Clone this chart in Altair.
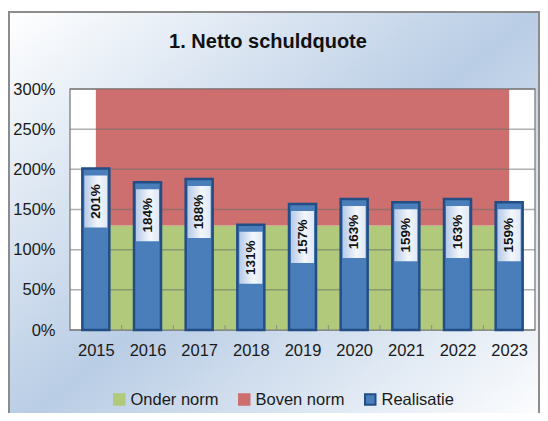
import altair as alt
import pandas as pd

# ---- data ----
years = [2015, 2016, 2017, 2018, 2019, 2020, 2021, 2022, 2023]
realisatie = [201, 184, 188, 131, 157, 163, 159, 163, 159]
onder_norm_top = [130, 130, 130, 130, 130, 130, 130, 130, 130]
boven_norm_top = [300, 300, 300, 300, 300, 300, 300, 300, 300]
y_ticks = [0, 50, 100, 150, 200, 250, 300]
series_names = ["Onder norm", "Boven norm", "Realisatie"]
series_fill = ["#b0c97a", "#cc6f6e", "#4a7ebb"]
series_stroke = ["#b0c97a", "#cc6f6e", "#224e85"]
title_text = "1. Netto schuldquote"

FONT = "Liberation Sans"
W, H = 465, 241
PAD = {"left": 62, "top": 81, "right": 5, "bottom": 83}

area_df = pd.DataFrame({
    "year": years + years,
    "series": ["Onder norm"] * len(years) + ["Boven norm"] * len(years),
    "low": [0] * len(years) + onder_norm_top,
    "high": onder_norm_top + boven_norm_top,
})
bar_df = pd.DataFrame({
    "year": years,
    "value": realisatie,
    "series": ["Realisatie"] * len(years),
    "label": [f"{v}%" for v in realisatie],
})
grid_df = pd.DataFrame({"v": y_ticks})
bound_df = pd.DataFrame({"b": [y + 0.5 for y in years[:-1]]})
one = pd.DataFrame({"k": [0]})

xscale = alt.Scale(domain=[2014.5, 2023.5], nice=False, zero=False, padding=0)
yscale = alt.Scale(domain=[0, 300], nice=False, padding=0)
xaxis = alt.Axis(values=years, format="d", grid=False, ticks=False, domain=False,
                 labelFontSize=16.5, labelFont=FONT, labelColor="#1a1a1a", zindex=2,
                 labelPadding=12, labelOverlap=False, labelFlush=False, title=None)
yaxis = alt.Axis(values=y_ticks, labelExpr="datum.value + '%'", grid=False, zindex=2,
                 ticks=False, tickSize=0, domain=False, labelFontSize=16.5,
                 labelFont=FONT, labelColor="#1a1a1a", labelPadding=15, title=None)


def legend():
    return alt.Legend(title=None, orient="none", legendX=41, legendY=302,
                      direction="horizontal", symbolType="square",
                      symbolSize=110, symbolStrokeWidth=2,
                      labelFontSize=16.5, labelFont=FONT, labelColor="#1a1a1a",
                      labelOffset=3, columnPadding=16, zindex=2)


color = alt.Color("series:N", scale=alt.Scale(domain=series_names, range=series_fill),
                  legend=legend())
stroke = alt.Stroke("series:N", scale=alt.Scale(domain=series_names, range=series_stroke),
                    legend=legend())

bg_grad = alt.Gradient(
    gradient="linear", x1=0, y1=0, x2=1, y2=1,
    stops=[alt.GradientStop(color="#ffffff", offset=0),
           alt.GradientStop(color="#b9cde5", offset=0.5),
           alt.GradientStop(color="#ffffff", offset=1)],
)
background = alt.Chart(one).mark_rect(fill=bg_grad, stroke="#8c8c8c", strokeWidth=2).encode(
    x=alt.value(-PAD["left"] + 1), x2=alt.value(W + PAD["right"] - 1),
    y=alt.value(-PAD["top"] + 4), y2=alt.value(H + PAD["bottom"] + 20),
)
plot_bg = alt.Chart(one).mark_rect(fill="#ffffff", stroke="#8c8c8c", strokeWidth=1.5).encode(
    x=alt.value(0), x2=alt.value(W), y=alt.value(0), y2=alt.value(H),
)
title = alt.Chart(one).mark_text(fontSize=20, fontWeight="bold", font=FONT, color="#111111",
                                 align="center", baseline="alphabetic").encode(
    x=alt.value(198), y=alt.value(-41), text=alt.value(title_text),
)

areas = alt.Chart(area_df).mark_area(strokeWidth=0).encode(
    x=alt.X("year:Q", scale=xscale, axis=xaxis),
    y=alt.Y("low:Q", scale=yscale, axis=yaxis),
    y2="high:Q",
    color=color,
    stroke=stroke,
)

grid = alt.Chart(grid_df).mark_rule(color="#6e6e6e", opacity=0.55, strokeWidth=1.5).encode(
    y=alt.Y("v:Q", scale=yscale, axis=yaxis),
    x=alt.value(0), x2=alt.value(W),
)

bticks = alt.Chart(bound_df).mark_rule(color="#8c8c8c", strokeWidth=1).encode(
    x=alt.X("b:Q", scale=xscale, axis=xaxis),
    y=alt.value(H), y2=alt.value(H - 5),
)

bars = alt.Chart(bar_df).mark_bar(width=27, strokeWidth=2.5).encode(
    x=alt.X("year:Q", scale=xscale, axis=xaxis),
    y=alt.Y("value:Q", scale=yscale, axis=yaxis),
    color=color,
    stroke=stroke,
)

box_grad = alt.Gradient(
    gradient="linear", x1=0, y1=0, x2=1, y2=0,
    stops=[alt.GradientStop(color="#b6cae8", offset=0),
           alt.GradientStop(color="#f3f7fc", offset=0.6),
           alt.GradientStop(color="#dfe8f5", offset=1)],
)
boxes = alt.Chart(bar_df).mark_bar(width=23, fill=box_grad, yOffset=7, y2Offset=59).encode(
    x=alt.X("year:Q", scale=xscale, axis=xaxis),
    y=alt.Y("value:Q", scale=yscale, axis=yaxis),
    y2="value:Q",
)

labels = alt.Chart(bar_df).mark_text(angle=270, yOffset=33, align="center", baseline="middle",
                                     fontSize=13.5, font=FONT, fontWeight="bold",
                                     color="#111111").encode(
    x=alt.X("year:Q", scale=xscale, axis=xaxis),
    y=alt.Y("value:Q", scale=yscale, axis=yaxis),
    text="label:N",
)

chart = alt.layer(background, plot_bg, title, areas, grid, bticks, bars, boxes, labels).properties(
    width=W, height=H,
    padding=PAD,
    autosize=alt.AutoSizeParams(type="none"),
    background="#ffffff",
).configure_view(stroke=None)

chart.save("out.html", embed_options={"renderer": "svg", "actions": False})
